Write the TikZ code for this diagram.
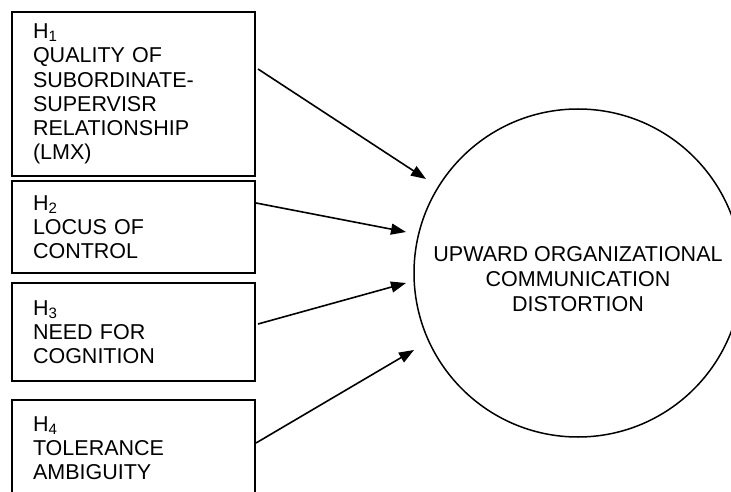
\documentclass[tikz,border=0pt]{standalone}
\usepackage{fontspec}
\setmainfont{Liberation Sans}
\usepackage{tikz}
\usetikzlibrary{arrows.meta, positioning, calc}

\begin{document}
\begin{tikzpicture}[
    x=1pt, y=-1pt,
    factor/.style={rectangle, draw, line width=2pt, anchor=north west, minimum width=243pt, inner xsep=21pt, inner ysep=3pt, text width=201pt, align=left, font=\fontsize{21.5}{24.2}\selectfont},
    outcome/.style={circle, draw, line width=1.5pt, minimum size=328pt, inner sep=0pt},
    caption/.style={align=center, yshift=-6pt, font=\fontsize{21.5}{25}\selectfont},
    arrow/.style={-{Triangle[length=15pt,width=11pt]}, line width=1.6pt}
]
    \useasboundingbox (0,0) rectangle (731,492);

    % Hypothesised antecedents
    \node[factor, minimum height=164pt] (h1) at (11,11) {H\textsubscript{1}\\QUALITY OF\\SUBORDINATE-\\SUPERVISR\\RELATIONSHIP\\(LMX)};
    \node[factor, minimum height=92pt] (h2) at (11,180) {H\textsubscript{2}\\LOCUS OF\\CONTROL};
    \node[factor, minimum height=98pt] (h3) at (11,282) {H\textsubscript{3}\\NEED FOR\\COGNITION};
    \node[factor, minimum height=96pt] (h4) at (11,399) {H\textsubscript{4}\\TOLERANCE\\AMBIGUITY};

    % Outcome
    \node[outcome, label={[caption]center:UPWARD ORGANIZATIONAL\\COMMUNICATION\\DISTORTION}] (distortion) at (578,273) {};

    % Arrow tips stop short of the circle
    \coordinate (t1) at (426,179);
    \coordinate (t2) at (406,232);
    \coordinate (t3) at (406,283);
    \coordinate (t4) at (414,350);

    % Connections
    \draw[arrow] ($(h1.north east)+(2,58)$) -- (t1);
    \draw[arrow] ($(h2.north east)+(0,23)$) -- (t2);
    \draw[arrow] ($(h3.north east)+(2,42)$) -- (t3);
    \draw[arrow] ($(h4.north east)+(0,44)$) -- (t4);
\end{tikzpicture}
\end{document}
